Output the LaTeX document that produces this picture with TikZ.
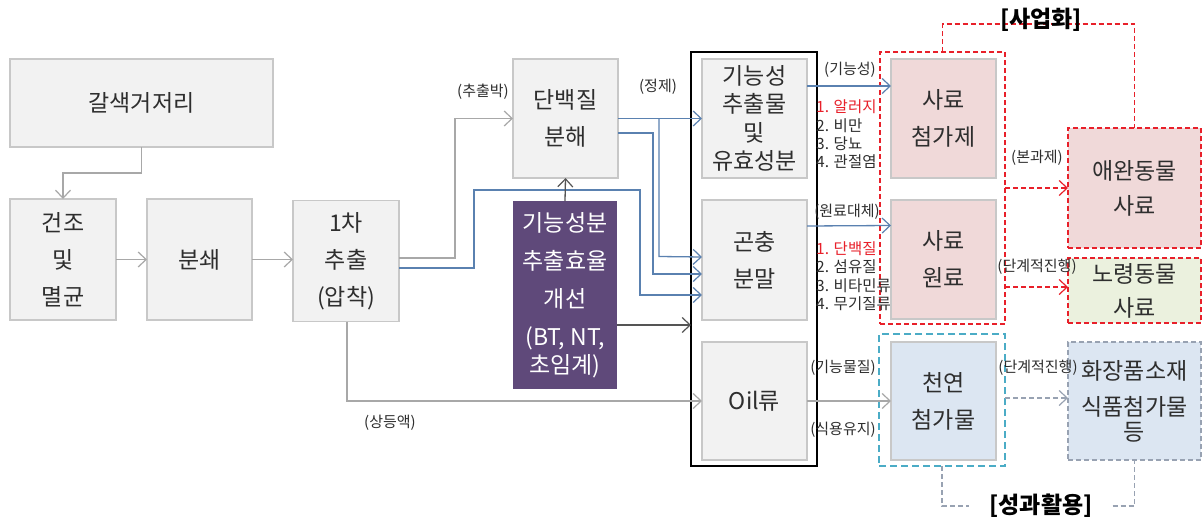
\documentclass[tikz,border=0pt]{standalone}
\usepackage{fontspec}
\setmainfont{Noto Sans CJK KR}
\usetikzlibrary{arrows.meta}
\definecolor{boxfill}{HTML}{F2F2F2}
\definecolor{boxdraw}{HTML}{C8C8C8}
\definecolor{txt}{HTML}{2E2E2E}
\definecolor{purp}{HTML}{5F497A}
\definecolor{pinkf}{HTML}{F0D9D9}
\definecolor{greenf}{HTML}{EBF1DE}
\definecolor{bluef}{HTML}{DCE6F2}
\definecolor{redd}{HTML}{E8202A}
\definecolor{cyand}{HTML}{4BACC6}
\definecolor{grayd}{HTML}{98A2B2}
\definecolor{arrblue}{HTML}{5A81B0}
\definecolor{arrgray}{HTML}{A8A8A8}
\definecolor{arrdark}{HTML}{555555}
\tikzset{
  gbox/.style={draw=boxdraw, line width=1.2pt, fill=boxfill, inner sep=0pt, outer sep=0pt,
    align=center, text=txt, font=\fontsize{23}{37}\selectfont},
  pbox/.style={gbox, fill=pinkf},
  bbox/.style={gbox, fill=bluef},
  purpbox/.style={fill=purp, inner sep=0pt, outer sep=0pt, align=center, text=white,
    font=\fontsize{23}{38}\selectfont},
  outbox/.style={draw=black, line width=1.4pt, inner sep=0pt, outer sep=0pt},
  rdash/.style={draw=redd, line width=1.2pt, dash pattern=on 5pt off 3pt},
  cdash/.style={draw=cyand, line width=1.2pt, dash pattern=on 7pt off 4pt},
  gdash/.style={draw=grayd, line width=1.2pt, dash pattern=on 5pt off 3pt},
  grp/.style={inner sep=0pt, outer sep=0pt},
  tip/.style={-{Straight Barb[length=8pt,width=15pt,line width=1.2pt]}},
  garrow/.style={draw=arrgray, line width=1.3pt, tip},
  barrow/.style={draw=arrblue, line width=1.3pt, tip},
  darrow/.style={draw=arrdark, line width=1.3pt, tip},
  lbl/.style={text=txt, inner sep=0pt, font=\fontsize{15}{16}\selectfont},
  lst/.style={text=txt, inner sep=0pt, anchor=west, align=left, font=\fontsize{15.5}{18.4}\selectfont},
  ttl/.style={text=black, inner sep=0pt, font=\fontsize{23}{26}\selectfont\bfseries},
}
\begin{document}
\begin{tikzpicture}[x=1pt,y=-1pt]
\useasboundingbox (0,0) rectangle (1202,522);
\fill[white] (0,0) rectangle (1202,522);

% groups
\node[grp, rdash, minimum width=125pt, minimum height=272pt] (redgrp) at (942.5,188) {};
\node[grp, cdash, minimum width=126pt, minimum height=132pt] (cyangrp) at (942,400) {};

% left chain
\node[gbox, minimum width=263pt, minimum height=88pt] (gal) at (141.5,103) {갈색거저리};
\node[gbox, minimum width=106pt, minimum height=121pt] (dry) at (63,259.5) {건조\\및\\멸균};
\node[gbox, minimum width=105pt, minimum height=121pt] (crush) at (199.5,259.5) {분쇄};
\node[gbox, minimum width=106pt, minimum height=121pt] (ext) at (346,261) {1차\\추출\\(압착)};
\node[gbox, minimum width=105pt, minimum height=119pt] (prot) at (565.5,118.5) {단백질\\분해};
\node[purpbox, minimum width=104pt, minimum height=188pt] (purp) at (565,295) {기능성분\\추출효율\\개선\\(BT, NT,\\[-10pt]초임계)};

% middle column
\node[outbox, minimum width=126pt, minimum height=414pt] (big) at (754,259) {};
\node[gbox, minimum width=105pt, minimum height=119pt, font=\fontsize{23}{28.5}\selectfont] (func) at (754.5,118.5) {기능성\\추출물\\및\\유효성분};
\node[gbox, minimum width=105pt, minimum height=120pt] (insect) at (754.5,260) {곤충\\분말};
\node[gbox, minimum width=105pt, minimum height=118pt] (oil) at (754.5,401) {Oil류};

% right column
\node[pbox, minimum width=105pt, minimum height=119pt] (feedadd) at (943.5,118.5) {사료\\첨가제};
\node[pbox, minimum width=105pt, minimum height=119pt] (feedraw) at (943.5,259.5) {사료\\원료};
\node[bbox, minimum width=105pt, minimum height=118pt] (natural) at (943.5,401) {천연\\첨가물};

\node[pbox, rdash, minimum width=133pt, minimum height=120pt, font=\fontsize{23}{35}\selectfont] (pet) at (1134.5,188) {애완동물\\사료};
\node[gbox, fill=greenf, rdash, minimum width=133pt, minimum height=65pt, font=\fontsize{23}{34}\selectfont] (old) at (1134.5,290.5) {노령동물\\사료};
\node[bbox, gdash, minimum width=133pt, minimum height=118pt, font=\fontsize{23}{36}\selectfont] (cosm) at (1134.5,401) {화장품소재\\식품첨가물\\[-11pt]등};

% connectors: left chain
\draw[garrow] (gal.south) -- ++(0,26) -| (dry.north);
\draw[garrow] (dry.east) -- (crush.west);
\draw[garrow] (crush.east) -- (ext.west |- crush.east);
\draw[garrow] ([yshift=3pt]ext.east) -- ++(56,0) |- (prot.west);
\draw[barrow] ([yshift=-7pt]ext.east) -- ++(75,0) -- ++(0,-78) -- ++(166,0) -- ++(0,105) -- ([yshift=-35pt]insect.west);
\draw[barrow] (prot.east) -- (func.west);
\draw[barrow] ([xshift=-43pt]func.west) -- ++(0,138) -- ([yshift=3pt]insect.west);
\draw[barrow] ([yshift=-14.5pt]prot.east) -- ++(35,0) -- ++(0,141) -- ([yshift=-14pt]insect.west);
\draw[darrow] (purp.north) -- (prot.south);
\draw[darrow] ([yshift=-30pt]purp.east) -- ([yshift=-30pt]purp.east -| big.west);
\draw[garrow] ([xshift=1pt]ext.south) |- (oil.west);

% connectors: to right column
\draw[barrow] ([yshift=32.5pt]func.east) -- ([yshift=32.5pt]feedadd.west);
\draw[barrow] ([yshift=34pt]insect.east) -- ([yshift=34pt]feedraw.west);
\draw[garrow] (oil.east) -- (natural.west);

\draw[rdash, tip] (redgrp.east) -- (pet.west);
\draw[rdash, tip] ([yshift=3.5pt]old.west -| redgrp.east) -- ([yshift=3.5pt]old.west);
\draw[gdash, tip] ([yshift=2pt]cyangrp.east) -- ([yshift=2pt]cyangrp.east -| cosm.west);

% titles
\draw[rdash] (redgrp.north) -- ++(0,-28) -| (pet.north);
\node[ttl] (biz) at (1041,20) {[사업화]};
\node[ttl, inner xsep=20pt] (use) at (1041,506) {[성과활용]};
\draw[gdash] (cyangrp.south) |- (use.west);
\draw[gdash] (use.east) -| (cosm.south);

% labels
\node[lbl] (l1) at (483,92) {(추출박)};
\node[lbl] (l2) at (658,87) {(정제)};
\node[lbl] (l3) at (850,70) {(기능성)};
\node[lbl] (l4) at (847,212) {(원료대체)};
\node[lbl] (l5) at (1037,158) {(본과제)};
\node[lbl] (l6) at (1037,267) {(단계적진행)};
\node[lbl] (l7) at (843,368) {(기능물질)};
\node[lbl] (l8) at (843,430) {(식용유지)};
\node[lbl] (l9) at (1038,368) {(단계적진행)};
\node[lbl] (l10) at (390,423) {(상등액)};
\node[lst] (list1) at (816,134.5) {\textcolor{redd}{1. 알러지}\\2. 비만\\3. 당뇨\\4. 관절염};
\node[lst] (list2) at (816,276) {\textcolor{redd}{1. 단백질}\\2. 섬유질\\3. 비타민류\\4. 무기질류};
\end{tikzpicture}
\end{document}
